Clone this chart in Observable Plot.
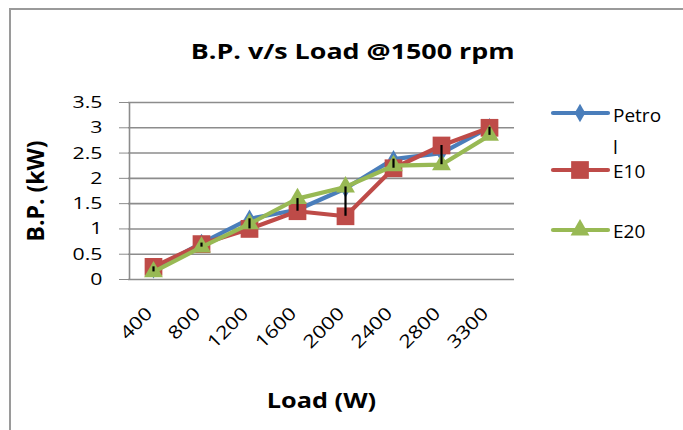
<!DOCTYPE html>
<html>
<head>
<meta charset="utf-8">
<script src="https://cdn.jsdelivr.net/npm/d3@7"></script>
<script src="https://cdn.jsdelivr.net/npm/@observablehq/plot@0.6"></script>
<style>
  html, body { margin: 0; padding: 0; background: #fff; overflow: hidden; }
  #wrap { position: relative; width: 683px; height: 430px; overflow: hidden; font-family: "Open Sans", sans-serif; }
  #frame { position: absolute; left: 9px; top: 8px; width: 720px; height: 470px; border: 2px solid #9a9a9a; box-sizing: border-box; }
  #title { position: absolute; left: 128px; width: 448px; top: 35px; text-align: center; font-weight: bold; font-size: 22px; color: #000; transform: scaleX(1.22); transform-origin: 221px 0; }
  #chart { position: absolute; left: 0; top: 0; }
  #chart g[aria-label="y-axis label"] text { font-weight: bold; font-size: 23px; }
  #chart g[aria-label="x-axis label"] text { font-weight: bold; font-size: 22px; }
  #legend { position: absolute; left: 550px; top: 98px; }
  .li { position: absolute; left: 0; width: 130px; height: 30px; }
  .li svg { position: absolute; left: 0; top: 0; }
  .li span { position: absolute; left: 63px; font-size: 19px; color: #000; white-space: pre; }
</style>
</head>
<body>
<div id="wrap">
  <div id="frame"></div>
  <div id="chart"></div>
  <div id="title">B.P. v/s Load @1500 rpm</div>
  <div id="legend"></div>
</div>
<script>
// ---- data ----
const categories = ["400", "800", "1200", "1600", "2000", "2400", "2800", "3300"];
const petrol = [0.2, 0.72, 1.2, 1.38, 1.8, 2.38, 2.5, 3.01];
const e10    = [0.25, 0.7, 1.0, 1.35, 1.25, 2.2, 2.65, 3.0];
const e20    = [0.15, 0.64, 1.1, 1.6, 1.83, 2.25, 2.27, 2.85];
const seriesNames = ["Petrol", "E10", "E20"];
const legendLabels = ["Petro\nl", "E10", "E20"];
const yTicks = [0, 0.5, 1, 1.5, 2, 2.5, 3, 3.5];

const colors = ["#4A7EBB", "#BE4B48", "#98B954"];
const symbols = ["diamond", "square", "triangle"];
const sizes = [5.6, 10, 7];
const values = [petrol, e10, e20];

const rows = [];
values.forEach((vals, s) => vals.forEach((v, i) => rows.push({series: seriesNames[s], load: categories[i], bp: v})));
const hiLo = categories.map((c, i) => ({load: c, lo: Math.min(petrol[i], e10[i], e20[i]), hi: Math.max(petrol[i], e10[i], e20[i])}));

const marks = [
  Plot.ruleY(yTicks, {stroke: "#8c8c8c", strokeWidth: 1.6}),
  Plot.axisY({ticks: yTicks, tickSize: 9, tickPadding: 17, stroke: "#8c8c8c", tickFormat: d => String(d),
    label: "B.P. (kW)", labelAnchor: "center", labelArrow: "none", labelOffset: 101}),
  Plot.ruleX([categories[0]], {stroke: "#8c8c8c", strokeWidth: 1.6, y1: 0, y2: 3.5, dx: -24}),
  Plot.axisX({tickSize: 0, tickRotate: -45, tickPadding: 31, dx: -4, fontSize: 18, label: null}),
  Plot.axisX({tickSize: 0, ticks: [], label: "Load (W)", labelAnchor: "center", labelArrow: "none", labelOffset: 128})
];
values.forEach((vals, s) => {
  const d = rows.filter(r => r.series === seriesNames[s]);
  marks.push(Plot.line(d, {x: "load", y: "bp", stroke: colors[s], strokeWidth: 4.2}));
  marks.push(Plot.dot(d, {x: "load", y: "bp", fill: colors[s], symbol: symbols[s], r: sizes[s]}));
});
marks.push(Plot.ruleX(hiLo, {x: "load", y1: "lo", y2: "hi", stroke: "#000", strokeWidth: 2.2}));

const chart = Plot.plot({
  width: 683,
  height: 430,
  marginLeft: 128,
  marginRight: 169,
  marginTop: 102,
  marginBottom: 151,
  style: {fontFamily: "'Open Sans', sans-serif", fontSize: "17px", color: "#000", background: "transparent", overflow: "visible"},
  x: {type: "point", domain: categories, padding: 0.5, align: 0.5},
  y: {domain: [0, 3.5]},
  marks
});
document.getElementById("chart").appendChild(chart);

// widen text horizontally to match the reference's stretched lettering
const svg = d3.select(chart);
svg.selectAll('g[aria-label="y-axis tick label"] text').each(function() {
  const t = this.getAttribute("transform") || "";
  this.setAttribute("transform", t + " scale(1.25,1)");
});
svg.selectAll('g[aria-label="x-axis tick label"] text').each(function() {
  const t = this.getAttribute("transform") || "";
  this.setAttribute("transform", t + " scale(1.2,1)");
});
svg.selectAll('g[aria-label="x-axis label"] text').each(function() {
  const t = this.getAttribute("transform") || "";
  this.setAttribute("transform", t + " scale(1.15,1)");
});

// ---- legend ----
const legendTops = [0, 57, 117];
const leg = document.getElementById("legend");
seriesNames.forEach((name, s) => {
  const item = document.createElement("div");
  item.className = "li";
  item.style.top = legendTops[s] + "px";
  const sv = d3.create("svg").attr("width", 62).attr("height", 30);
  sv.append("line").attr("x1", 3).attr("x2", 58).attr("y1", 15).attr("y2", 15)
    .attr("stroke", colors[s]).attr("stroke-width", 4.2).attr("stroke-linecap", "round");
  const symType = {diamond: d3.symbolDiamond, square: d3.symbolSquare, triangle: d3.symbolTriangle}[symbols[s]];
  sv.append("path").attr("transform", "translate(30,15)")
    .attr("d", d3.symbol(symType, Math.PI * sizes[s] * sizes[s])()).attr("fill", colors[s]);
  item.appendChild(sv.node());
  const span = document.createElement("span");
  span.textContent = legendLabels[s];
  if (s === 0) { span.style.lineHeight = "32px"; span.style.top = "1px"; }
  else { span.style.lineHeight = "18px"; span.style.top = "7px"; }
  item.appendChild(span);
  leg.appendChild(item);
});
</script>
</body>
</html>
